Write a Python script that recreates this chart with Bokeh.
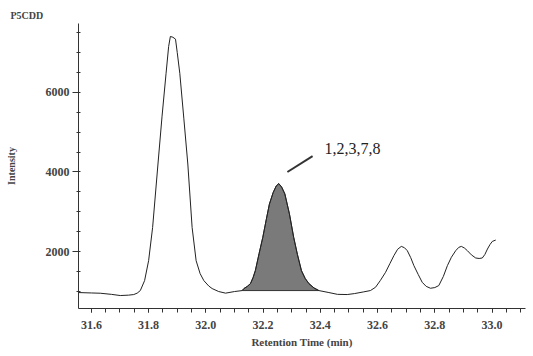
from bokeh.plotting import figure
from bokeh.models import ColumnDataSource, FixedTicker, Range1d, Label, NumeralTickFormatter
from bokeh.embed import file_html
from bokeh.resources import INLINE

# Chromatogram trace (retention time in min, intensity)
rt = [31.555, 31.60, 31.631, 31.67, 31.701, 31.73, 31.748, 31.760, 31.771, 31.786,
      31.800, 31.814, 31.833, 31.847, 31.861, 31.870, 31.876, 31.885, 31.894, 31.900,
      31.909, 31.923, 31.937, 31.952, 31.966, 31.980, 31.993, 32.010, 32.022, 32.045,
      32.069, 32.10, 32.127, 32.133, 32.145, 32.156, 32.165, 32.173, 32.186, 32.199,
      32.211, 32.222, 32.235, 32.246, 32.255, 32.265, 32.276, 32.292, 32.307, 32.320,
      32.334, 32.347, 32.360, 32.378, 32.395, 32.43, 32.46, 32.494, 32.52, 32.55,
      32.575, 32.593, 32.610, 32.628, 32.643, 32.657, 32.670, 32.683, 32.694, 32.704,
      32.716, 32.727, 32.742, 32.756, 32.770, 32.785, 32.800, 32.814, 32.830, 32.844,
      32.858, 32.873, 32.884, 32.893, 32.904, 32.914, 32.928, 32.943, 32.955, 32.966,
      32.975, 32.984, 32.993, 33.001, 33.013]
intensity = [975, 965, 958, 930, 900, 910, 925, 960, 1025, 1275,
             1775, 2608, 4225, 5400, 6475, 7150, 7400, 7380, 7333, 7000,
             6475, 5350, 4200, 2608, 1775, 1450, 1275, 1140, 1075, 1000,
             960, 1000, 1025, 1075, 1130, 1200, 1350, 1525, 1950, 2358,
             2800, 3192, 3480, 3650, 3708, 3620, 3450, 2950, 2358, 1930,
             1525, 1330, 1200, 1090, 1025, 975, 930, 925, 950, 990,
             1025, 1108, 1280, 1483, 1700, 1900, 2060, 2133, 2100, 2025,
             1850, 1650, 1430, 1233, 1130, 1083, 1100, 1150, 1380, 1650,
             1860, 2025, 2110, 2133, 2090, 2025, 1920, 1842, 1830, 1842,
             1930, 2067, 2180, 2258, 2292]

# Integrated peak window
peak_start = 32.127
peak_end = 32.395
peak_label = "1,2,3,7,8"

x_major = [31.6, 31.8, 32.0, 32.2, 32.4, 32.6, 32.8, 33.0]
x_minor = [round(31.55 + 0.05 * i, 2) for i in range(32)]
y_major = [2000, 4000, 6000]
y_minor = [1000 + 500 * i for i in range(14)]

SERIF = "Liberation Serif"

p = figure(width=533, height=356, output_backend="svg", toolbar_location=None,
           x_range=Range1d(31.555, 33.117), y_range=Range1d(575, 7725),
           min_border_left=78, min_border_right=8, min_border_top=23, min_border_bottom=48)
p.outline_line_color = None
p.xgrid.visible = False
p.ygrid.visible = False
p.background_fill_color = "white"
p.border_fill_color = "white"

p.title.text = "P5CDD"
p.title.text_font = SERIF
p.title.text_font_size = "10px"
p.title.text_font_style = "bold"
p.title.align = "left"
p.title.offset = -68
p.title.standoff = 6

src = ColumnDataSource(dict(x=rt, y=intensity))
sx = [x for x in rt if peak_start <= x <= peak_end]
sy = [y for x, y in zip(rt, intensity) if peak_start <= x <= peak_end]
p.patch(sx, sy, fill_color="#7a7a7a", line_color="#333333", line_width=1)
p.line("x", "y", source=src, line_color="#222222", line_width=1)

# annotation pointer
p.segment(x0=[32.285], y0=[4000], x1=[32.373], y1=[4400], line_color="#333333", line_width=2)
p.add_layout(Label(x=32.415, y=4600, text=peak_label, text_font=SERIF, text_font_size="16px",
                   text_baseline="middle", text_align="left", text_color="#222222"))

xa = p.xaxis[0]
xa.ticker = FixedTicker(ticks=x_major, minor_ticks=x_minor)
xa.formatter = NumeralTickFormatter(format="0.0")
xa.axis_label = "Retention Time (min)"
xa.axis_label_text_font = SERIF
xa.axis_label_text_font_style = "bold"
xa.axis_label_text_font_size = "11px"
xa.axis_label_standoff = 4
xa.major_label_text_font = SERIF
xa.major_label_text_font_size = "12px"
xa.major_label_text_font_style = "bold"
xa.major_label_standoff = 8
xa.major_tick_out = 4
xa.major_tick_in = 0
xa.minor_tick_out = 4
xa.minor_tick_in = 0
xa.axis_line_color = "#333333"
xa.major_tick_line_color = "#333333"
xa.minor_tick_line_color = "#333333"

ya = p.yaxis[0]
ya.ticker = FixedTicker(ticks=y_major, minor_ticks=y_minor)
ya.axis_label = "Intensity"
ya.axis_label_text_font = SERIF
ya.axis_label_text_font_style = "bold"
ya.axis_label_text_font_size = "10px"
ya.axis_label_standoff = 26
ya.major_label_text_font = SERIF
ya.major_label_text_font_size = "12px"
ya.major_label_text_font_style = "bold"
ya.major_label_standoff = 3
ya.major_tick_out = 6
ya.major_tick_in = 0
ya.minor_tick_out = 2
ya.minor_tick_in = 2
ya.axis_line_color = "#333333"
ya.major_tick_line_color = "#333333"
ya.minor_tick_line_color = "#333333"

open("out.html", "w").write(file_html(p, INLINE))
